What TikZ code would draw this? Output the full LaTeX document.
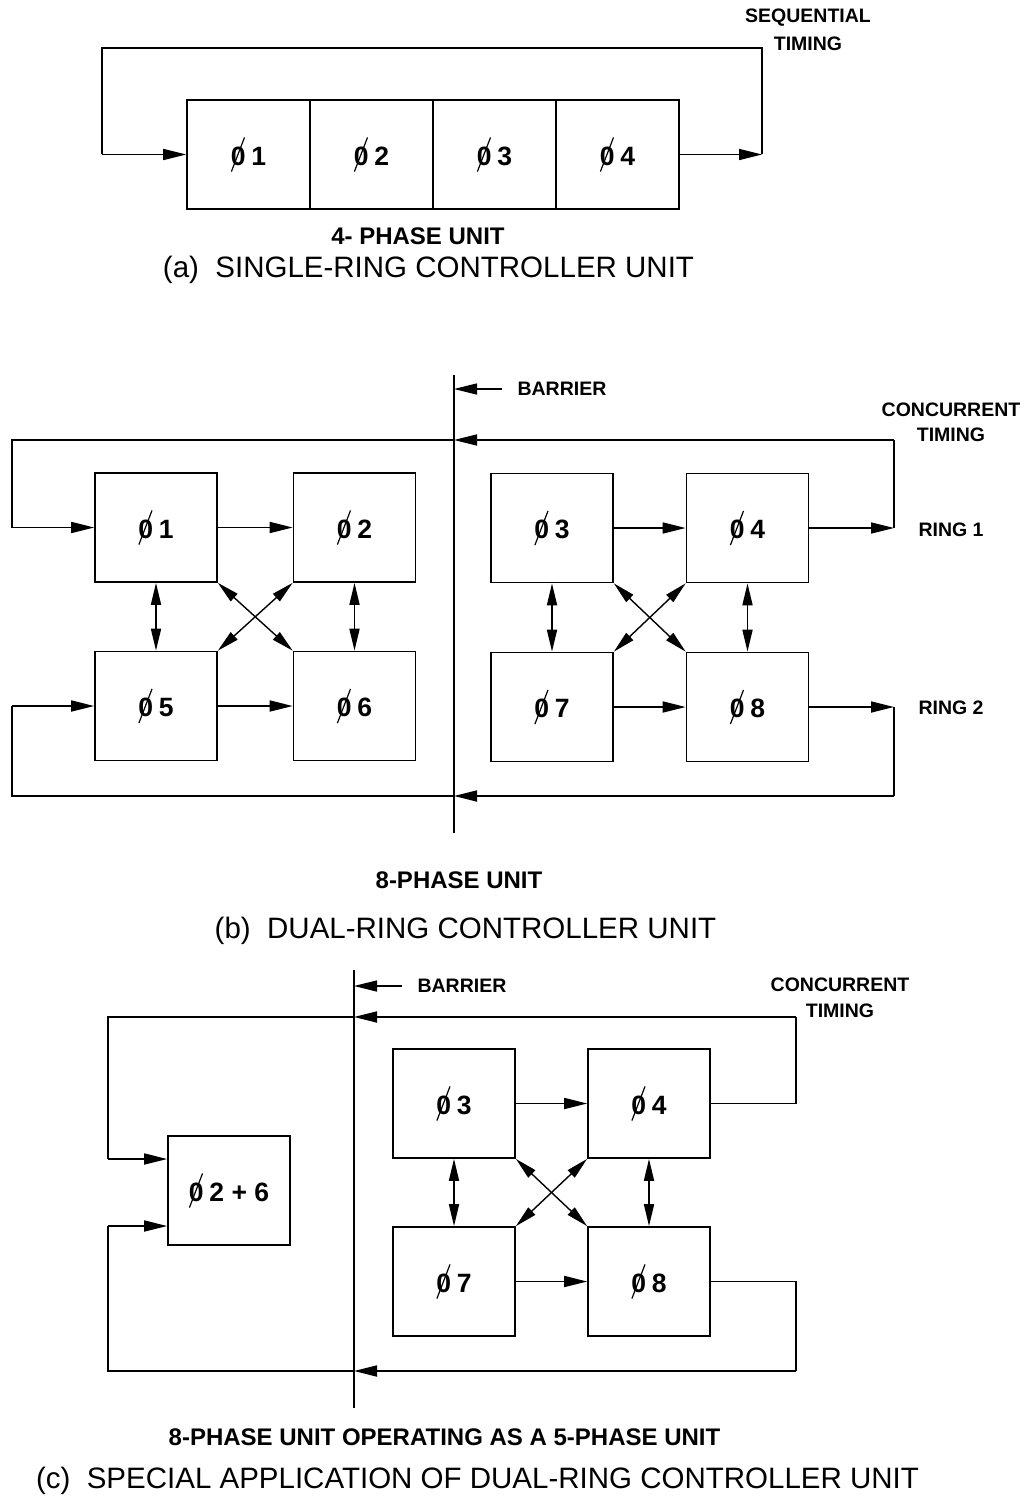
\documentclass[tikz,border=0pt]{standalone}
\usepackage{fontspec}
\setmainfont{Liberation Sans}
\usetikzlibrary{arrows.meta}
\newcommand\slz{\makebox[0pt][l]{\hspace{0.0em}\raisebox{-0.24em}{\rotatebox{69}{\rule{1.38em}{0.045em}}}}0}
\newcommand\ph[1]{\slz\hspace{0.22em}#1}
\begin{document}
\begin{tikzpicture}[x=1pt,y=-1pt,line width=1.7pt,line join=miter,
  tri/.style={-{Triangle[length=23pt,width=11pt]}},
  dtri/.style={{Triangle[length=22pt,width=10pt]}-{Triangle[length=22pt,width=10pt]}},
  phbox/.style={draw,line width=1.7pt,inner sep=0pt,minimum width=122pt,minimum height=109pt,font=\fontsize{26.5}{30}\selectfont\bfseries},
  lbl/.style={inner sep=0pt,font=\fontsize{19.5}{22}\selectfont\bfseries},
  sublbl/.style={inner sep=0pt,font=\fontsize{24}{28}\selectfont\bfseries},
  ttl/.style={inner sep=0pt,font=\fontsize{29.5}{34}\selectfont}]
\useasboundingbox (0,0) rectangle (1028,1498);
\fill[white] (0,0) rectangle (1028,1498);

% ---------------- (a) ----------------
\node[phbox,minimum width=123pt] (A1) at (248.5,154.5) {\ph{1}};
\node[phbox,minimum width=123pt] (A2) at (371.5,154.5) {\ph{2}};
\node[phbox,minimum width=123pt] (A3) at (494.5,154.5) {\ph{3}};
\node[phbox,minimum width=123pt] (A4) at (617.5,154.5) {\ph{4}};
\coordinate (aR) at (762,154.5);
\coordinate (aRT) at (762,48);
\coordinate (aLT) at (102,48);
\coordinate (aL) at (102,154.5);
\draw[tri] (A4.east) -- (aR);
\draw (aR) -- (aRT) -- (aLT) -- (aL);
\draw[tri] (aL) -- (A1.west);
\node[lbl] (seq1) at (808,18) {SEQUENTIAL};
\node[lbl] (seq2) at (808,44) {TIMING};
\node[sublbl] (a4) at (418,236) {4- PHASE UNIT};
\node[ttl] (at) at (428.5,270) {(a)\ \ SINGLE-RING CONTROLLER UNIT};

% ---------------- (b) ----------------
\node[phbox] (B1) at (156,527.5) {\ph{1}};
\node[phbox] (B2) at (354.5,527.5) {\ph{2}};
\node[phbox] (B5) at (156,706) {\ph{5}};
\node[phbox] (B6) at (354.5,706) {\ph{6}};
\node[phbox] (B3) at (552,528) {\ph{3}};
\node[phbox] (B4) at (747.5,528) {\ph{4}};
\node[phbox] (B7) at (552,707) {\ph{7}};
\node[phbox] (B8) at (747.5,707) {\ph{8}};

\draw[tri] (B1.east) -- (B2.west);
\draw[tri] (B5.east) -- (B6.west);
\draw[dtri] (B1.south) -- (B5.north);
\draw[dtri] (B2.south) -- (B6.north);
\draw[dtri,line width=1.4pt] (B1.south east) -- (B6.north west);
\draw[dtri,line width=1.4pt] (B2.south west) -- (B5.north east);
\draw[tri] (B3.east) -- (B4.west);
\draw[tri] (B7.east) -- (B8.west);
\draw[dtri] (B3.south) -- (B7.north);
\draw[dtri] (B4.south) -- (B8.north);
\draw[dtri,line width=1.4pt] (B3.south east) -- (B8.north west);
\draw[dtri,line width=1.4pt] (B4.south west) -- (B7.north east);

\coordinate (bbT) at (454,375);
\coordinate (bbB) at (454,833);
\draw (bbT) -- (bbB);
\node[lbl] (bbl) at (562,389) {BARRIER};
\draw[tri,line width=1.3pt] ([xshift=-15pt]bbl.west) -- (bbl.west -| bbT);

% ring 1 loop
\coordinate (r1R) at (894,528);
\coordinate (r1RT) at (894,440);
\coordinate (r1M) at (454,440);
\coordinate (r1LT) at (12,440);
\coordinate (r1L) at (12,527.5);
\draw[tri] (B4.east) -- (r1R);
\draw (r1R) -- (r1RT);
\draw[tri] (r1RT) -- (r1M);
\draw (r1M) -- (r1LT) -- (r1L);
\draw[tri] (r1L) -- (B1.west);
% ring 2 loop
\coordinate (r2R) at (894,707);
\coordinate (r2RB) at (894,796);
\coordinate (r2M) at (454,796);
\coordinate (r2LB) at (12,796);
\coordinate (r2L) at (12,706);
\draw[tri] (B8.east) -- (r2R);
\draw (r2R) -- (r2RB);
\draw[tri] (r2RB) -- (r2M);
\draw (r2M) -- (r2LB) -- (r2L);
\draw[tri] (r2L) -- (B5.west);

\node[lbl] (cc1) at (951,410) {CONCURRENT};
\node[lbl] (cc2) at (951,435) {TIMING};
\node[lbl] (rg1) at (951,530) {RING 1};
\node[lbl] (rg2) at (951,708) {RING 2};
\node[sublbl] (b8) at (459,880) {8-PHASE UNIT};
\node[ttl] (bt) at (465.5,931) {(b)\ \ DUAL-RING CONTROLLER UNIT};

% ---------------- (c) ----------------
\node[phbox] (C26) at (229,1190.5) {\ph{2 + 6}};
\node[phbox] (C3) at (454,1103.5) {\ph{3}};
\node[phbox] (C4) at (649,1103.5) {\ph{4}};
\node[phbox] (C7) at (454,1281.5) {\ph{7}};
\node[phbox] (C8) at (649,1281.5) {\ph{8}};

\draw[tri] (C3.east) -- (C4.west);
\draw[tri] (C7.east) -- (C8.west);
\draw[dtri] (C3.south) -- (C7.north);
\draw[dtri] (C4.south) -- (C8.north);
\draw[dtri,line width=1.4pt] (C3.south east) -- (C8.north west);
\draw[dtri,line width=1.4pt] (C4.south west) -- (C7.north east);

\coordinate (cbT) at (354,970);
\coordinate (cbB) at (354,1408);
\draw (cbT) -- (cbB);
\node[lbl] (cbl) at (462,986) {BARRIER};
\draw[tri,line width=1.3pt] ([xshift=-15pt]cbl.west) -- (cbl.west -| cbT);

% top loop
\coordinate (c1R) at (796,1103.5);
\coordinate (c1RT) at (796,1017);
\coordinate (c1M) at (354,1017);
\coordinate (c1LT) at (108,1017);
\coordinate (c1L) at (108,1159);
\draw (C4.east) -- (c1R) -- (c1RT);
\draw[tri] (c1RT) -- (c1M);
\draw (c1M) -- (c1LT) -- (c1L);
\draw[tri] (c1L) -- (C26.west |- c1L);
% bottom loop
\coordinate (c2R) at (796,1281.5);
\coordinate (c2RB) at (796,1371);
\coordinate (c2M) at (354,1371);
\coordinate (c2LB) at (108,1371);
\coordinate (c2L) at (108,1226);
\draw (C8.east) -- (c2R) -- (c2RB);
\draw[tri] (c2RB) -- (c2M);
\draw (c2M) -- (c2LB) -- (c2L);
\draw[tri] (c2L) -- (C26.west |- c2L);

\node[lbl] (ccc1) at (840,985) {CONCURRENT};
\node[lbl] (ccc2) at (840,1011) {TIMING};
\node[sublbl] (c8) at (444.5,1437) {8-PHASE UNIT OPERATING AS A 5-PHASE UNIT};
\node[ttl] (ct) at (477.5,1481) {(c)\ \ SPECIAL APPLICATION OF DUAL-RING CONTROLLER UNIT};
\end{tikzpicture}
\end{document}
